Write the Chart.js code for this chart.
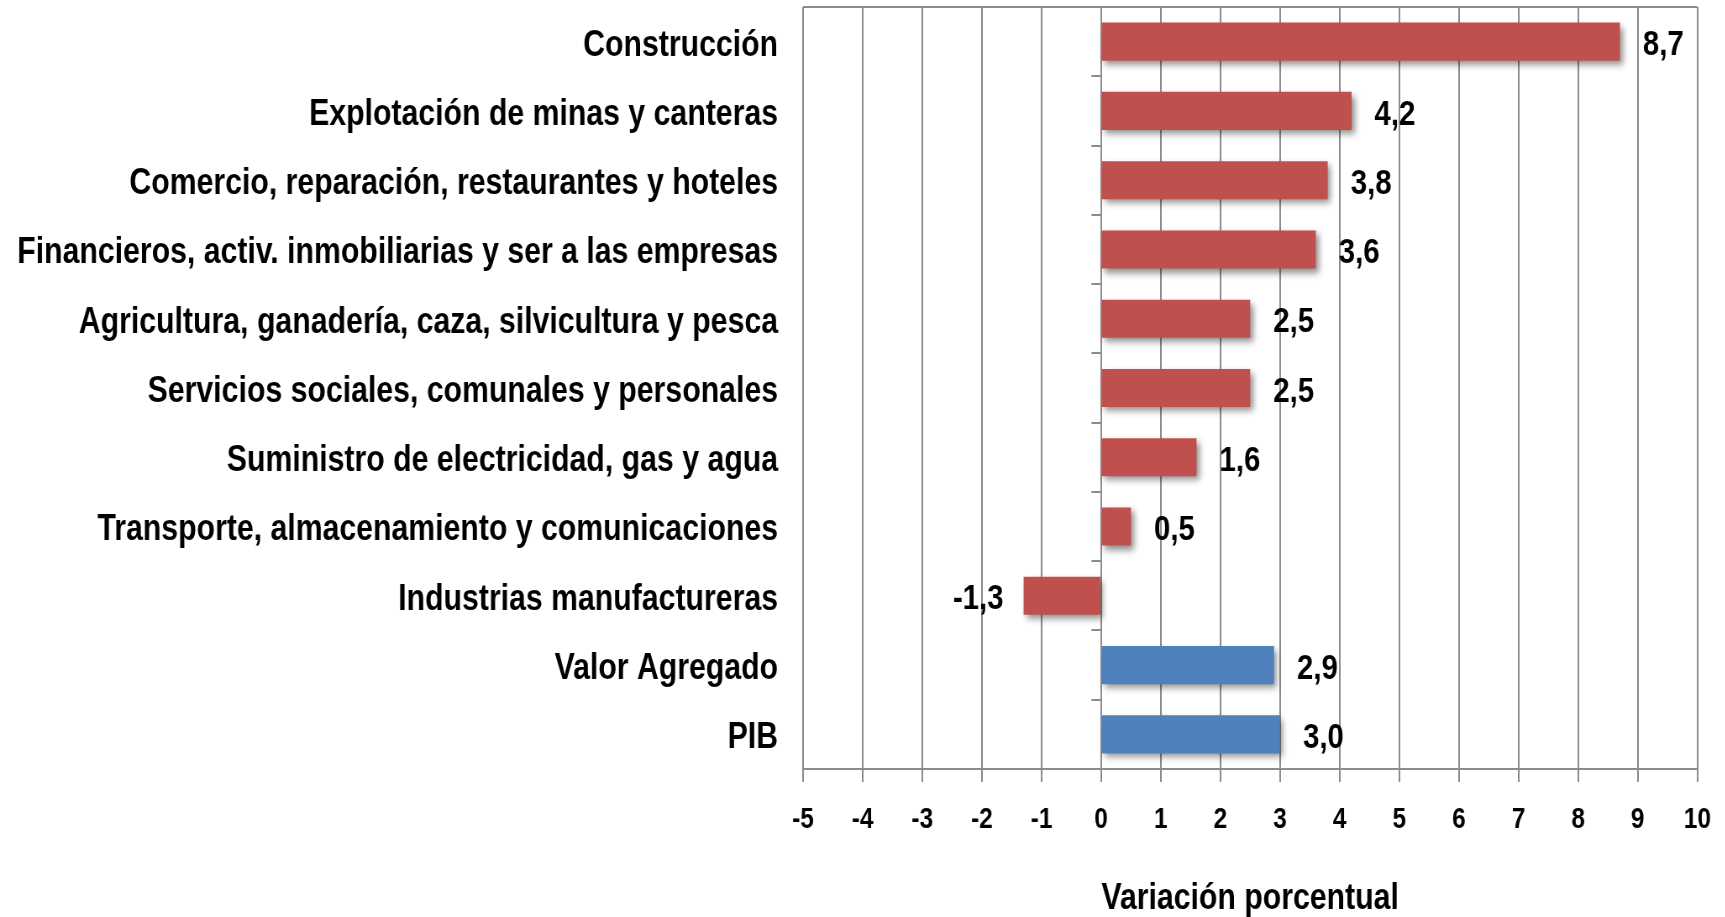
<!DOCTYPE html>
<html>
<head>
<meta charset="utf-8">
<script src="https://cdn.jsdelivr.net/npm/chart.js@4.4.1/dist/chart.umd.min.js"></script>
<style>
  html, body { margin: 0; padding: 0; background: #fff; overflow: hidden; }
  /* el original tiene el texto muy estrecho: se dibuja ancho y se comprime en horizontal */
  #caja { width: 2054px; height: 917px; transform: scaleX(0.84); transform-origin: 0 0; }
  canvas { display: block; }
</style>
</head>
<body>
<div id="caja">
  <canvas id="variacionChart" width="2054" height="917"></canvas>
</div>
<script>
const categorias = [
  'Construcción',
  'Explotación de minas y canteras',
  'Comercio, reparación, restaurantes y hoteles',
  'Financieros, activ. inmobiliarias y ser a las empresas',
  'Agricultura, ganadería, caza, silvicultura y pesca',
  'Servicios sociales, comunales y personales',
  'Suministro de electricidad, gas y agua',
  'Transporte, almacenamiento y comunicaciones',
  'Industrias manufactureras',
  'Valor Agregado',
  'PIB'
];
const variacion = [8.7, 4.2, 3.8, 3.6, 2.5, 2.5, 1.6, 0.5, -1.3, 2.9, 3.0];
const esTotal = [false, false, false, false, false, false, false, false, false, true, true];
const ejeMin = -5;
const ejeMax = 10;

const K = 0.84; // compresión horizontal
const rojo = '#C0504D';
const azul = '#4F81BD';
const gris = '#8c8c8c';
const fuente = '"Liberation Sans", Arial, sans-serif';

const fmt = (v) => v.toFixed(1).replace('.', ',');

// sombra de las barras
const sombra = {
  id: 'sombra',
  beforeDatasetsDraw(chart) {
    const ctx = chart.ctx;
    ctx.save();
    ctx.shadowColor = 'rgba(0,0,0,0.45)';
    ctx.shadowBlur = 7;
    ctx.shadowOffsetX = 3 / K;
    ctx.shadowOffsetY = 4;
  },
  afterDatasetsDraw(chart) {
    chart.ctx.restore();
  }
};

// valores al final de cada barra
const etiquetas = {
  id: 'etiquetas',
  afterDatasetsDraw(chart) {
    const ctx = chart.ctx;
    const meta = chart.getDatasetMeta(0);
    ctx.save();
    ctx.fillStyle = '#000';
    ctx.font = 'bold 35px ' + fuente;
    ctx.textBaseline = 'middle';
    meta.data.forEach((bar, i) => {
      const v = variacion[i];
      if (v >= 0) {
        ctx.textAlign = 'left';
        ctx.fillText(fmt(v), bar.x + 23 / K, bar.y + 4);
      } else {
        ctx.textAlign = 'right';
        ctx.fillText(fmt(v), bar.x - 20 / K, bar.y + 4);
      }
    });
    ctx.restore();
  }
};

// línea superior del área de trazado
const marco = {
  id: 'marco',
  beforeDatasetsDraw(chart) {
    const a = chart.chartArea;
    const ctx = chart.ctx;
    ctx.save();
    ctx.strokeStyle = gris;
    ctx.lineWidth = 2;
    ctx.beginPath();
    ctx.moveTo(a.left, a.top);
    ctx.lineTo(a.right, a.top);
    ctx.stroke();
    ctx.restore();
  }
};

const ctx = document.getElementById('variacionChart');
new Chart(ctx, {
  type: 'bar',
  data: {
    labels: categorias,
    datasets: [{
      data: variacion,
      backgroundColor: esTotal.map((t) => t ? azul : rojo),
      borderWidth: 0,
      barPercentage: 0.55,
      categoryPercentage: 1
    }]
  },
  options: {
    indexAxis: 'y',
    responsive: false,
    animation: false,
    devicePixelRatio: 1,
    layout: { padding: { left: 0, right: 28 / K, top: 7, bottom: 0 } },
    plugins: {
      legend: { display: false },
      tooltip: { enabled: false }
    },
    scales: {
      x: {
        min: ejeMin,
        max: ejeMax,
        ticks: {
          stepSize: 1,
          padding: 21,
          color: '#000',
          font: { family: fuente, size: 29, weight: 'bold' },
          callback: (v) => String(v)
        },
        grid: { color: gris, lineWidth: 2, tickLength: 13 },
        border: { color: gris, width: 2 },
        title: {
          display: true,
          text: 'Variación porcentual',
          color: '#000',
          font: { family: fuente, size: 36, weight: 'bold', lineHeight: 1.0 },
          padding: { top: 0, bottom: 0 }
        },
        afterFit: (s) => { s.height = 148; s.paddingLeft = 0; s.paddingRight = 0; }
      },
      y: {
        ticks: {
          padding: 25 / K,
          labelOffset: 4,
          color: '#000',
          font: { family: fuente, size: 36, weight: 'bold' }
        },
        grid: { display: false, drawTicks: false },
        border: { display: false },
        afterFit: (s) => { s.width = 803 / K; s.paddingTop = 0; s.paddingBottom = 0; }
      },
      cero: {
        type: 'category',
        axis: 'y',
        position: { x: 0 },
        ticks: { display: false },
        grid: { drawOnChartArea: false, drawTicks: true, tickLength: 9 / K, color: gris, lineWidth: 2 },
        border: { color: gris, width: 2 },
        afterFit: (s) => { s.width = 0; s.paddingTop = 0; s.paddingBottom = 0; }
      }
    }
  },
  plugins: [marco, sombra, etiquetas]
});
</script>
</body>
</html>
